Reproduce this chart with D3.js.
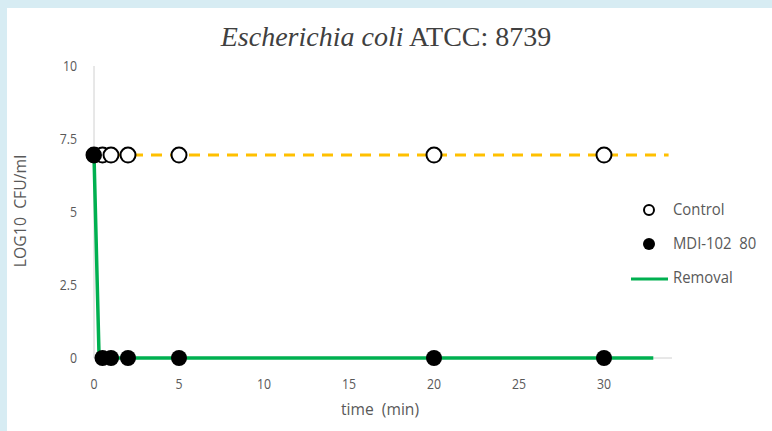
<!DOCTYPE html>
<html><head><meta charset="utf-8">
<script src="https://cdn.jsdelivr.net/npm/d3@7"></script>
<style>body{margin:0;background:#d7ecf3;}svg{display:block;}</style>
</head><body>
<svg id="c" width="772" height="431"></svg>
<script>
const times = [0, 0.5, 1, 2, 5, 20, 30];
const controlValues = [6.95, 6.95, 6.95, 6.95, 6.95, 6.95, 6.95];
const mdiValues = [6.95, 0, 0, 0, 0, 0, 0];
const controlTrendTimes = [0, 33.8];
const controlTrendValues = [6.95, 6.95];
const removalTimes = [0, 0.3, 32.9];
const removalValues = [6.95, 0, 0];
const xTicks = [0, 5, 10, 15, 20, 25, 30];
const yTicks = [0, 2.5, 5, 7.5, 10];
const yTickLabels = ["0", "2.5", "5", "7.5", "10"];

const svg = d3.select("#c");
svg.append("rect").attr("x", 7).attr("y", 8).attr("width", 765).attr("height", 423).attr("fill", "#fff");

const x = d3.scaleLinear().domain([0, 34]).range([94, 672]);
const y = d3.scaleLinear().domain([0, 10]).range([358, 66]);
const font = "'Open Sans', 'Liberation Sans', sans-serif";
const tickColor = "#595959";

// axes lines
svg.append("line").attr("x1", x(0)).attr("x2", x(0)).attr("y1", y(10)).attr("y2", y(0)).attr("stroke", "#d0d0d0").attr("stroke-width", 1);
svg.append("line").attr("x1", x(0)).attr("x2", x(34)).attr("y1", y(0)).attr("y2", y(0)).attr("stroke", "#d0d0d0").attr("stroke-width", 1);

// tick labels
svg.selectAll(".xt").data(xTicks).enter().append("text")
  .attr("x", d => x(d)).attr("y", 389).attr("text-anchor", "middle")
  .attr("font-family", font).attr("font-size", 15).attr("fill", tickColor)
  .attr("transform", d => `translate(${x(d)},0) scale(0.82,1) translate(${-x(d)},0)`)
  .text(d => d);
svg.selectAll(".yt").data(yTicks).enter().append("text")
  .attr("x", 77).attr("y", d => y(d) + 5).attr("text-anchor", "end")
  .attr("font-family", font).attr("font-size", 15).attr("fill", tickColor)
  .attr("transform", `translate(77,0) scale(0.82,1) translate(-77,0)`)
  .text((d, i) => yTickLabels[i]);

// axis titles
svg.append("text").attr("transform", "translate(26,211) rotate(-90) scale(0.93,1)")
  .attr("text-anchor", "middle").attr("font-family", font).attr("font-size", 17).attr("fill", tickColor)
  .attr("xml:space", "preserve").text("LOG10  CFU/ml");
svg.append("text").attr("transform", "translate(380,415) scale(0.92,1)")
  .attr("text-anchor", "middle").attr("font-family", font).attr("font-size", 17).attr("fill", tickColor)
  .attr("xml:space", "preserve").text("time  (min)");

// title
const t = svg.append("text").attr("x", 386).attr("y", 46).attr("text-anchor", "middle")
  .attr("font-family", "'Liberation Serif', serif").attr("font-size", 28).attr("fill", "#404040");
t.append("tspan").attr("font-style", "italic").text("Escherichia coli");
t.append("tspan").text(" ATCC: 8739");

const line = d3.line().x(d => x(d[0])).y(d => y(d[1]));
// control trend dashed
svg.append("path").datum(controlTrendTimes.map((d, i) => [d, controlTrendValues[i]]))
  .attr("d", line).attr("fill", "none").attr("stroke", "#ffc000").attr("stroke-width", 3).attr("stroke-dasharray", "11,8");
// removal line
svg.append("path").datum(removalTimes.map((d, i) => [d, removalValues[i]]))
  .attr("d", line).attr("fill", "none").attr("stroke", "#00b050").attr("stroke-width", 3.5);

// control points
svg.selectAll(".cp").data(times.map((d, i) => [d, controlValues[i]])).enter().append("circle")
  .attr("cx", d => x(d[0])).attr("cy", d => y(d[1])).attr("r", 7.5)
  .attr("fill", "#fff").attr("stroke", "#000").attr("stroke-width", 2);
// MDI points
svg.selectAll(".mp").data(times.map((d, i) => [d, mdiValues[i]])).enter().append("circle")
  .attr("cx", d => x(d[0])).attr("cy", d => y(d[1])).attr("r", 8)
  .attr("fill", "#000");

// legend
const lg = svg.append("g");
lg.append("circle").attr("cx", 649).attr("cy", 210).attr("r", 5).attr("fill", "#fff").attr("stroke", "#000").attr("stroke-width", 2);
lg.append("circle").attr("cx", 649).attr("cy", 244).attr("r", 6).attr("fill", "#000");
lg.append("line").attr("x1", 631).attr("x2", 668).attr("y1", 279).attr("y2", 279).attr("stroke", "#00b050").attr("stroke-width", 3);
const legendLabels = ["Control", "MDI-102  80", "Removal"];
lg.selectAll(".lt").data(legendLabels).enter().append("text")
  .attr("x", 673).attr("y", (d, i) => 215 + i * 34)
  .attr("font-family", font).attr("font-size", 16).attr("fill", tickColor)
  .attr("xml:space", "preserve")
  .attr("transform", "translate(673,0) scale(0.93,1) translate(-673,0)")
  .text(d => d);
</script>
</body></html>
